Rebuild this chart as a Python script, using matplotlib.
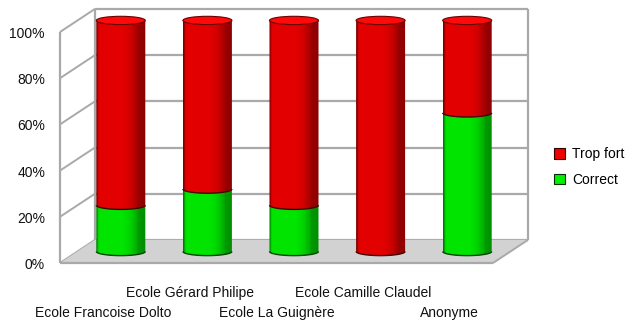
import numpy as np
import matplotlib
matplotlib.use("Agg")
import matplotlib.pyplot as plt
from matplotlib.patches import Polygon, Ellipse, PathPatch, Patch
from matplotlib.path import Path

plt.rcParams['font.family'] = ['Liberation Sans', 'DejaVu Sans']
plt.rcParams['font.size'] = 10

# données
ecoles = ["Ecole Francoise Dolto", "Ecole Gérard Philipe", "Ecole La Guignère",
          "Ecole Camille Claudel", "Anonyme"]
correct = [20, 27, 20, 0, 60]
trop_fort = [80, 73, 80, 100, 40]
graduations = [0, 20, 40, 60, 80, 100]

# pseudo-3D
DX, DY = 0.404, 10.0          # profondeur du cadre (unités x, %)
RAYON = 0.283                 # demi-largeur d'un cylindre
ELL = 1.8                     # demi-hauteur des ellipses
GRIS = '#a9a9a9'

rouge = np.array([226, 0, 0]) / 255
vert = np.array([0, 228, 0]) / 255

# ombrage horizontal du cylindre
pos = [0, 0.03, 0.07, 0.55, 0.68, 0.78, 0.86, 1.0]
fac = [0.55, 0.85, 1.0, 1.0, 0.93, 0.82, 0.68, 0.62]


def trait(ax, xs, ys, **kw):
    ax.plot(xs, ys, clip_on=False, solid_capstyle='butt', **kw)


def arc(cx, y, sens):
    t = np.linspace(np.pi, 2 * np.pi, 40)
    if sens < 0:
        t = t[::-1]
    return np.column_stack([cx + RAYON * np.cos(t), y + ELL * np.sin(t)])


def troncon(ax, cx, y0, y1, couleur):
    bas = arc(cx, y0, 1)
    haut = arc(cx, y1, -1)
    pts = np.vstack([bas, haut, bas[:1]])
    codes = [Path.MOVETO] + [Path.LINETO] * (len(pts) - 2) + [Path.CLOSEPOLY]
    forme = PathPatch(Path(pts, codes), facecolor='none', edgecolor='none',
                      clip_on=False)
    ax.add_patch(forme)
    x = np.linspace(0, 1, 60)
    f = np.interp(x, pos, fac)
    img = (f[:, None] * couleur[None, :])[None, :, :]
    im = ax.imshow(img, extent=[cx - RAYON, cx + RAYON, y0 - ELL, y1 + ELL],
                   aspect='auto', interpolation='nearest', zorder=3)
    im.set_clip_box(fig.bbox)
    im.set_clip_path(forme)
    trait(ax, bas[:, 0], bas[:, 1], color=couleur * 0.3, lw=1, zorder=4)


fig = plt.figure(figsize=(6.3, 3.25), dpi=100)
ax = fig.add_axes([60 / 630, 62 / 325, 433 / 630, 231 / 325])
n = len(ecoles)

# mur du fond et grille
for v in graduations:
    trait(ax, [DX, n + DX], [v + DY, v + DY], color=GRIS, lw=1.6, zorder=1)
    trait(ax, [0, DX], [v, v + DY], color=GRIS, lw=1.4, zorder=1)
trait(ax, [DX, DX], [DY, 100 + DY], color=GRIS, lw=1.6, zorder=1)
trait(ax, [n + DX, n + DX], [DY, 100 + DY], color=GRIS, lw=1.6, zorder=1)

# sol
ax.add_patch(Polygon([(0, 0), (n, 0), (n + DX, DY), (DX, DY)],
                     facecolor='#d2d2d2', edgecolor='none', zorder=1.5,
                     clip_on=False))
trait(ax, [0, n], [0, 0], color=GRIS, lw=1.6, zorder=2)
trait(ax, [n, n + DX], [0, DY], color=GRIS, lw=1.4, zorder=2)
trait(ax, [0, 0], [0, 100], color=GRIS, lw=1.6, zorder=2)

# cylindres empilés
for i in range(n):
    cx = i + 0.5 + DX / 2
    y0 = DY / 2
    if correct[i] > 0:
        troncon(ax, cx, y0, y0 + correct[i], vert)
    haut = y0 + correct[i] + trop_fort[i]
    troncon(ax, cx, y0 + correct[i], haut, rouge)
    ax.add_patch(Ellipse((cx, haut), 2 * RAYON, 2 * ELL, facecolor='#ff0a0a',
                         edgecolor='#6a0000', lw=0.8, zorder=5, clip_on=False))

# étiquettes
for v in graduations:
    ax.annotate(f"{v}%", xy=(0, v), xytext=(-15, -6), textcoords='offset pixels',
                ha='right', va='baseline', color='#111111', annotation_clip=False)
for i, nom in enumerate(ecoles):
    dy = -54 if i % 2 == 0 else -34
    ax.annotate(nom, xy=(i + 0.5, 0), xytext=(0, dy), textcoords='offset pixels',
                ha='center', va='baseline', color='#111111', annotation_clip=False)

ax.set_xlim(0, n)
ax.set_ylim(0, 100)
ax.axis('off')

poignees = [Patch(facecolor='#f00000', edgecolor='#300000', lw=0.8),
            Patch(facecolor='#00f000', edgecolor='#003000', lw=0.8)]
fig.legend(poignees, ["Trop fort", "Correct"], loc='center left',
           bbox_to_anchor=(554 / 630, 1 - 167 / 325), frameon=False,
           handlelength=0.8, handleheight=0.8, handletextpad=0.5,
           labelspacing=0.85, borderpad=0, borderaxespad=0)

fig.savefig("out.png", dpi=100)
